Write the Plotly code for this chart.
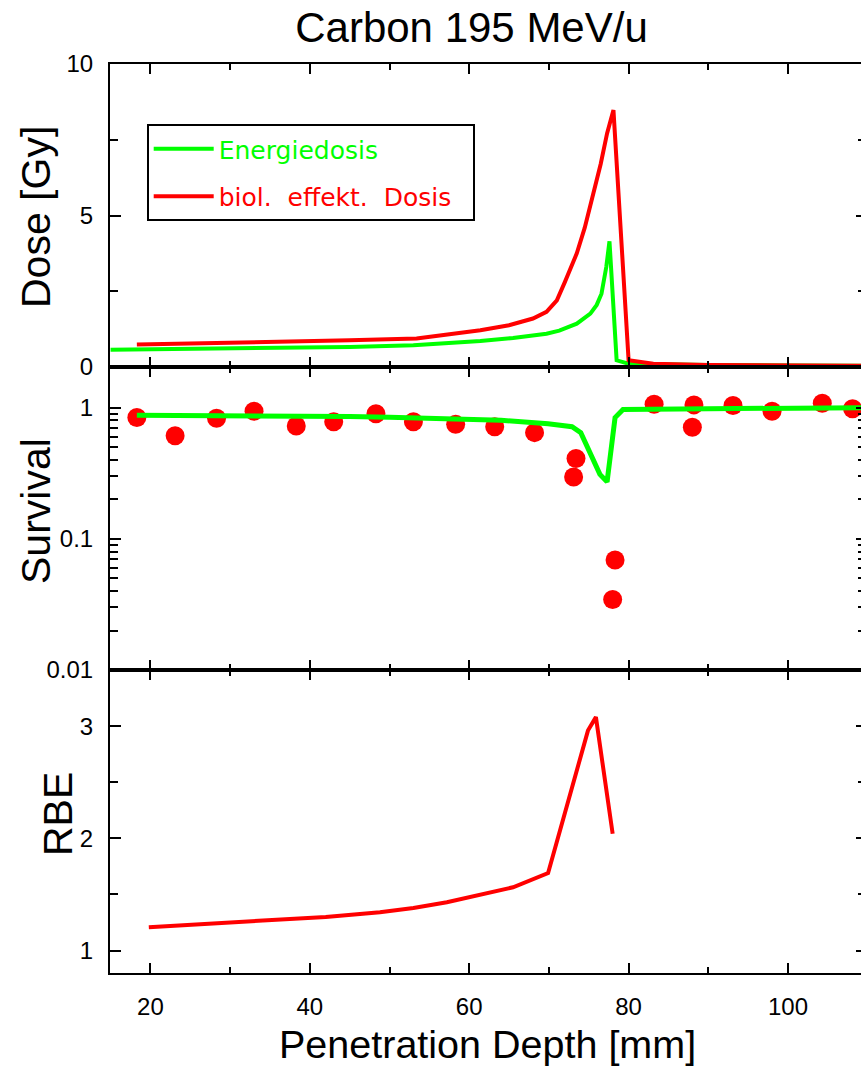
import plotly.graph_objects as go

# ---------------- data ----------------
# Dose panel: physical dose (Energiedosis)
phys_depth = [15.0, 20.0, 25.0, 30.0, 37.0, 45.0, 53.0, 57.0, 61.4, 65.5, 69.7, 71.3, 73.5, 75.2, 76.0, 76.6, 77.2, 77.6, 78.5, 80.0, 85.0, 90.0, 100.0, 109.2]
phys_dose = [0.57, 0.58, 0.59, 0.60, 0.62, 0.66, 0.72, 0.78, 0.86, 0.96, 1.10, 1.20, 1.43, 1.76, 2.05, 2.42, 3.30, 4.15, 0.22, 0.11, 0.08, 0.07, 0.05, 0.04]

# Dose panel: biologically effective dose
bio_depth = [18.3, 25.0, 30.0, 36.3, 45.0, 53.4, 57.0, 61.4, 65.0, 68.0, 69.7, 71.0, 72.0, 73.0, 73.5, 74.5, 75.6, 76.5, 77.3, 78.1, 80.0, 83.1, 90.0, 100.0, 109.2]
bio_dose = [0.74, 0.77, 0.79, 0.83, 0.88, 0.94, 1.06, 1.21, 1.38, 1.60, 1.82, 2.20, 2.80, 3.40, 3.75, 4.60, 5.73, 6.70, 7.71, 8.48, 0.22, 0.11, 0.07, 0.05, 0.04]

# Survival panel: model curve
surv_model_depth = [18.3, 25.0, 30.0, 36.3, 45.0, 50.0, 55.0, 60.0, 64.0, 69.9, 72.9, 74.0, 75.2, 76.4, 77.3, 78.3, 79.3, 90.0, 100.0, 109.2]
surv_model = [0.875, 0.873, 0.870, 0.868, 0.855, 0.845, 0.832, 0.815, 0.80, 0.755, 0.716, 0.645, 0.44, 0.31, 0.272, 0.84, 0.97, 0.98, 0.99, 1.00]

# Survival panel: measured points
surv_meas_depth = [18.3, 23.1, 28.3, 33.0, 38.3, 43.0, 48.3, 53.0, 58.3, 63.2, 68.2, 73.1, 73.4, 78.0, 78.3, 83.2, 88.0, 88.2, 93.1, 98.0, 104.3, 108.1]
surv_meas = [0.84, 0.61, 0.83, 0.94, 0.725, 0.78, 0.90, 0.78, 0.746, 0.716, 0.645, 0.296, 0.41, 0.0345, 0.069, 1.06, 0.71, 1.05, 1.04, 0.94, 1.08, 0.98]

# RBE panel
rbe_depth = [19.8, 25.0, 30.0, 36.3, 42.0, 48.8, 53.0, 57.2, 61.4, 65.5, 69.9, 74.9, 75.9, 78.0]
rbe = [1.208, 1.23, 1.25, 1.274, 1.30, 1.342, 1.38, 1.43, 1.495, 1.564, 1.69, 2.96, 3.08, 2.04]

# tick labels
surv_tickvals = [0.01, 0.1, 1]
surv_ticktext = ["0.01", "0.1", "1"]
surv_minor = [0.02, 0.03, 0.04, 0.05, 0.06, 0.07, 0.08, 0.09,
              0.2, 0.3, 0.4, 0.5, 0.6, 0.7, 0.8, 0.9, 2]

GREEN = "#00ff00"
RED = "#ff0000"

# ---------------- figure ----------------
W, H = 861, 1067
ML, MR, MT, MB = 110, 0, 64, 94
PW = W - ML - MR
PH = H - MT - MB

def px_x(px):
    return (px - ML) / PW

def px_y(py):
    return (H - MB - py) / PH

NB = "\u00a0"
fig = go.Figure()

fig.add_trace(go.Scatter(x=phys_depth, y=phys_dose, mode="lines",
                         line=dict(color=GREEN, width=4),
                         name='<span style="color:#00ff00">Energiedosis</span>',
                         xaxis="x", yaxis="y", legendgroup="a"))
fig.add_trace(go.Scatter(x=bio_depth, y=bio_dose, mode="lines",
                         line=dict(color=RED, width=4),
                         name='<span style="color:#ff0000">biol.' + NB * 2 + 'effekt.' + NB * 2 + 'Dosis' + NB * 2 + '</span>',
                         xaxis="x", yaxis="y", legendgroup="b"))
fig.add_trace(go.Scatter(x=surv_meas_depth, y=surv_meas, mode="markers",
                         marker=dict(color=RED, size=19, line=dict(width=0)),
                         showlegend=False, xaxis="x2", yaxis="y2"))
fig.add_trace(go.Scatter(x=surv_model_depth, y=surv_model, mode="lines",
                         line=dict(color=GREEN, width=5),
                         showlegend=False, xaxis="x2", yaxis="y2"))
fig.add_trace(go.Scatter(x=rbe_depth, y=rbe, mode="lines",
                         line=dict(color=RED, width=4),
                         showlegend=False, xaxis="x3", yaxis="y3"))
# empty traces to activate right-hand tick axes
for xa, ya in (("x", "y4"), ("x2", "y5"), ("x3", "y6")):
    fig.add_trace(go.Scatter(x=[], y=[], mode="lines", showlegend=False,
                             hoverinfo="skip", xaxis=xa, yaxis=ya))

tickfont = dict(family="Liberation Sans Narrow, Arial Narrow, Liberation Sans, sans-serif",
                size=24, color="black")

xr = [14.93, 109.16]
xcommon = dict(range=xr, showgrid=False, zeroline=False, showline=True,
               linecolor="black", linewidth=2, mirror="ticks",
               ticks="inside", ticklen=10, tickwidth=2, tickcolor="black",
               tick0=0, dtick=20,
               minor=dict(ticks="inside", ticklen=6, tickwidth=2, tickcolor="black",
                          tick0=0, dtick=10),
               tickfont=tickfont)

ycommon = dict(showgrid=False, zeroline=False, showline=True,
               linecolor="black", linewidth=2, mirror=False,
               ticks="inside", ticklen=11, tickwidth=2, tickcolor="black",
               tickfont=tickfont, ticklabelstandoff=10)

yright = dict(showgrid=False, zeroline=False, showline=False, side="right",
              ticks="inside", ticklen=5, tickwidth=2, tickcolor="black",
              showticklabels=False)

fig.update_layout(
    width=W, height=H,
    margin=dict(l=ML, r=MR, t=MT, b=MB, pad=0),
    paper_bgcolor="white", plot_bgcolor="white",
    title=dict(text="Carbon 195 MeV/u", x=471.5 / W, xref="container", xanchor="center",
               y=1 - 27 / H, yref="container", yanchor="middle",
               font=dict(family="Liberation Sans, Arial, sans-serif", size=42, color="black")),
    xaxis=dict(**xcommon, anchor="y", matches="x3", showticklabels=False),
    xaxis2=dict(**xcommon, anchor="y2", matches="x3", showticklabels=False),
    xaxis3=dict(**xcommon, anchor="y3", showticklabels=True, ticklabelstandoff=11),
    yaxis=dict(**ycommon, domain=[2 / 3, 1], anchor="x", range=[0, 10],
               tick0=0, dtick=5,
               minor=dict(ticks="inside", ticklen=8, tickwidth=2, tickcolor="black",
                          tick0=0, dtick=2.5)),
    yaxis2=dict(**ycommon, domain=[1 / 3, 2 / 3], anchor="x2", type="log",
                range=[-2, 0.31], tickmode="array", tickvals=surv_tickvals,
                ticktext=surv_ticktext,
                minor=dict(ticks="inside", ticklen=8, tickwidth=2, tickcolor="black",
                           tickmode="array", tickvals=surv_minor)),
    yaxis3=dict(**ycommon, domain=[0, 1 / 3], anchor="x3", range=[0.8, 3.5],
                tick0=0, dtick=1,
                minor=dict(ticks="inside", ticklen=8, tickwidth=2, tickcolor="black",
                           tick0=0, dtick=0.5)),
    yaxis4=dict(**yright, overlaying="y", anchor="x", range=[0, 10], tick0=0, dtick=5,
                minor=dict(ticks="inside", ticklen=3, tickwidth=2, tickcolor="black",
                           tick0=0, dtick=2.5)),
    yaxis5=dict(**yright, overlaying="y2", anchor="x2", type="log", range=[-2, 0.31],
                tickmode="array", tickvals=surv_tickvals,
                minor=dict(ticks="inside", ticklen=3, tickwidth=2, tickcolor="black",
                           tickmode="array", tickvals=surv_minor)),
    yaxis6=dict(**yright, overlaying="y3", anchor="x3", range=[0.8, 3.5], tick0=0, dtick=1,
                minor=dict(ticks="inside", ticklen=3, tickwidth=2, tickcolor="black",
                           tick0=0, dtick=0.5)),
    showlegend=True,
    legend=dict(x=px_x(146.7), y=px_y(124), xanchor="left", yanchor="top",
                xref="paper", yref="paper",
                bgcolor="white", bordercolor="black", borderwidth=2,
                font=dict(family="DejaVu Sans, sans-serif", size=25, color="black"),
                itemwidth=60, tracegroupgap=12, traceorder="grouped"),
    hovermode=False,
)

title_font = dict(family="Liberation Sans, Arial, sans-serif", size=41, color="black")
annotations = [
    dict(text="Dose [Gy]", x=px_x(36), y=px_y(217), textangle=-90, size=41),
    dict(text="Survival", x=px_x(36), y=px_y(511), textangle=-90, size=41),
    dict(text="RBE", x=px_x(58), y=px_y(814), textangle=-90, size=41),
    dict(text="Penetration Depth [mm]", x=px_x(487), y=px_y(1044), textangle=0, size=39.5),
]
for a in annotations:
    sz = a.pop("size")
    fig.add_annotation(xref="paper", yref="paper", showarrow=False,
                       xanchor="center", yanchor="middle",
                       font=dict(title_font, size=sz), **a)

fig.write_html("out.html")
